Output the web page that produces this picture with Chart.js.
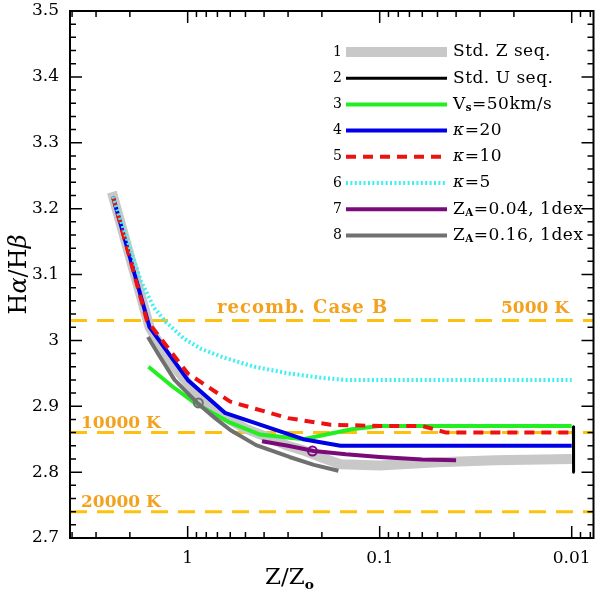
<!DOCTYPE html>
<html>
<head>
<meta charset="utf-8">
<script src="https://cdn.jsdelivr.net/npm/chart.js@4.4.1/dist/chart.umd.min.js"></script>
<style>
  html, body { margin: 0; padding: 0; background: #fff; }
</style>
</head>
<body>
<canvas id="myChart" width="600" height="603"></canvas>
<script>
// values: x = Z/Zo, y = Halpha/Hbeta
const zStdZ = [2.48, 1.58, 1.25, 1.0, 0.8, 0.65, 0.5, 0.4, 0.3, 0.25, 0.2, 0.16, 0.1, 0.05, 0.025, 0.01];
const hStdZ = [3.225, 3.02, 2.97, 2.935, 2.905, 2.885, 2.866, 2.855, 2.84, 2.833, 2.822, 2.812, 2.81, 2.815, 2.818, 2.82];

const zStdU = [0.0098, 0.0098, 0.00975, 0.0098, 0.00975, 0.0098, 0.00975, 0.0098];
const hStdU = [2.869, 2.858, 2.85, 2.84, 2.83, 2.82, 2.81, 2.80];

const zVs50 = [1.6, 1.2, 0.92, 0.6, 0.42, 0.25, 0.14, 0.1, 0.05, 0.01];
const hVs50 = [2.96, 2.93, 2.905, 2.875, 2.857, 2.85, 2.865, 2.87, 2.87, 2.87];

const zK20 = [2.45, 1.58, 1.0, 0.64, 0.25, 0.16, 0.1, 0.05, 0.025, 0.01];
const hK20 = [3.218, 3.02, 2.94, 2.89, 2.85, 2.84, 2.84, 2.84, 2.84, 2.84];

const zK10 = [2.45, 1.63, 1.0, 0.6, 0.3, 0.18, 0.1, 0.06, 0.045, 0.01];
const hK10 = [3.218, 3.03, 2.95, 2.907, 2.882, 2.872, 2.87, 2.87, 2.86, 2.86];

const zK5 = [2.45, 1.75, 1.5, 1.3, 1.05, 0.85, 0.65, 0.45, 0.3, 0.2, 0.15, 0.1, 0.05, 0.02, 0.01];
const hK5 = [3.218, 3.09, 3.05, 3.028, 3.003, 2.987, 2.974, 2.96, 2.95, 2.943, 2.94, 2.94, 2.94, 2.94, 2.94];

const zZA004 = [0.41, 0.3, 0.22, 0.15, 0.1, 0.06, 0.04];
const hZA004 = [2.847, 2.84, 2.832, 2.827, 2.823, 2.819, 2.818];

const zZA016 = [1.61, 1.4, 1.17, 0.89, 0.72, 0.6, 0.44, 0.295, 0.22, 0.164];
const hZA016 = [3.005, 2.976, 2.94, 2.905, 2.882, 2.864, 2.841, 2.823, 2.811, 2.802];

// open circles on the two Z_A tracks
const markZ = [0.224, 0.88];
const markH = [2.832, 2.905];

// Case B recombination values (5000 K, 10000 K, 20000 K)
const caseB = [3.03, 2.86, 2.74];

const xRange = [0.0077, 4.1];
const yRange = [2.7, 3.5];
const xTicks = [1, 0.1, 0.01];
const xTickText = ['1', '0.1', '0.01'];
const yTicks = [2.7, 2.8, 2.9, 3.0, 3.1, 3.2, 3.3, 3.4, 3.5];
const yTickText = ['2.7', '2.8', '2.9', '3', '3.1', '3.2', '3.3', '3.4', '3.5'];

const pts = (xs, ys) => xs.map((x, i) => ({ x: x, y: ys[i] }));
const hline = (v) => [{ x: xRange[1], y: v }, { x: xRange[0], y: v }];

const FONT = '"DejaVu Serif"';
const ORANGE = '#F3A21F';
const GOLD = '#FDC20F';

const datasets = [
  { label: 'Std. U seq.', data: pts(zStdU, hStdU), borderColor: '#000', borderWidth: 3 },
  { label: 'mark1', data: pts(markZ.slice(0, 1), markH.slice(0, 1)), showLine: false,
    pointRadius: 4.5, borderColor: '#7a0a7a', borderWidth: 2, backgroundColor: 'rgba(0,0,0,0)' },
  { label: 'mark2', data: pts(markZ.slice(1), markH.slice(1)), showLine: false,
    pointRadius: 4.5, borderColor: '#707070', borderWidth: 2, backgroundColor: 'rgba(0,0,0,0)' },
  { label: 'Z_A=0.04', data: pts(zZA004, hZA004), borderColor: '#7a0a7a', borderWidth: 4 },
  { label: 'Z_A=0.16', data: pts(zZA016, hZA016), borderColor: '#707070', borderWidth: 4 },
  { label: 'k=5', data: pts(zK5, hK5), borderColor: '#3ef0f0', borderWidth: 4, borderDash: [2, 2.4] },
  { label: 'k=10', data: pts(zK10, hK10), borderColor: '#ee1111', borderWidth: 4, borderDash: [10, 7] },
  { label: 'k=20', data: pts(zK20, hK20), borderColor: '#0000e6', borderWidth: 4 },
  { label: 'Vs=50', data: pts(zVs50, hVs50), borderColor: '#22ee22', borderWidth: 4 },
  { label: 'Std. Z seq.', data: pts(zStdZ, hStdZ), borderColor: '#c8c8c8', borderWidth: 10 },
  { label: 'caseB1', data: hline(caseB[0]), borderColor: GOLD, borderWidth: 3, borderDash: [17, 10] },
  { label: 'caseB2', data: hline(caseB[1]), borderColor: GOLD, borderWidth: 3, borderDash: [17, 10] },
  { label: 'caseB3', data: hline(caseB[2]), borderColor: GOLD, borderWidth: 3, borderDash: [17, 10] }
];

// legend rows: number, dataset index, label pieces [text, style]
const legendRows = [
  ['1', 9, [['Std. Z seq.', '']]],
  ['2', 0, [['Std. U seq.', '']]],
  ['3', 8, [['V', ''], ['s', 'sub'], ['=50km/s', '']]],
  ['4', 7, [['\u03BA', 'i'], ['=20', '']]],
  ['5', 6, [['\u03BA', 'i'], ['=10', '']]],
  ['6', 5, [['\u03BA', 'i'], ['=5', '']]],
  ['7', 3, [['Z', ''], ['A', 'sub'], ['=0.04, 1dex', '']]],
  ['8', 4, [['Z', ''], ['A', 'sub'], ['=0.16, 1dex', '']]]
];

function fontFor(s, size) {
  const f = s === 'sub' ? size * 0.6 : size;
  return (s === 'i' ? 'italic ' : '') + (s === 'sub' ? 'bold ' : '') + f + 'px ' + FONT;
}
function partsWidth(ctx, parts, size) {
  let w = 0;
  for (const [t, s] of parts) {
    ctx.font = fontFor(s, size);
    w += ctx.measureText(t).width;
  }
  return w;
}
function drawParts(ctx, parts, x, y, size) {
  for (const [t, s] of parts) {
    ctx.font = fontFor(s, size);
    ctx.fillText(t, x, s === 'sub' ? y + size * 0.22 : y);
    x += ctx.measureText(t).width;
  }
}

const frame = {
  id: 'frame',
  afterDraw(chart) {
    const ctx = chart.ctx;
    const a = chart.chartArea;
    const xs = chart.scales.x, ys = chart.scales.y;
    ctx.save();
    ctx.strokeStyle = '#000';
    ctx.fillStyle = '#000';
    ctx.lineWidth = 2;
    ctx.strokeRect(a.left, a.top, a.right - a.left, a.bottom - a.top);

    // inward ticks, y
    ctx.lineWidth = 1.5;
    for (let k = 0; k <= 40; k++) {
      const v = yRange[0] + k * 0.02;
      const p = ys.getPixelForValue(v);
      const len = k % 5 === 0 ? 12 : 6;
      ctx.beginPath();
      ctx.moveTo(a.left, p); ctx.lineTo(a.left + len, p);
      ctx.moveTo(a.right, p); ctx.lineTo(a.right - len, p);
      ctx.stroke();
    }
    // inward ticks, x (log)
    for (let d = -3; d <= 0; d++) {
      for (let m = 1; m <= 9; m++) {
        const v = m * Math.pow(10, d);
        if (v < xRange[0] || v > xRange[1]) continue;
        const p = xs.getPixelForValue(v);
        const len = m === 1 ? 12 : 6;
        ctx.beginPath();
        ctx.moveTo(p, a.bottom); ctx.lineTo(p, a.bottom - len);
        ctx.moveTo(p, a.top); ctx.lineTo(p, a.top + len);
        ctx.stroke();
      }
    }

    // tick labels
    ctx.font = '17px ' + FONT;
    ctx.textBaseline = 'middle';
    ctx.textAlign = 'right';
    yTicks.forEach((v, i) => ctx.fillText(yTickText[i], a.left - 11, ys.getPixelForValue(v)));
    ctx.textAlign = 'center';
    ctx.textBaseline = 'top';
    xTicks.forEach((v, i) => ctx.fillText(xTickText[i], xs.getPixelForValue(v), a.bottom + 12));

    // axis titles
    ctx.textAlign = 'left';
    ctx.textBaseline = 'alphabetic';
    const xt = [['Z/Z', ''], ['o', 'sub']];
    drawParts(ctx, xt, 265, 584, 23);
    const yt = [['H', ''], ['\u03B1', 'i'], ['/H', ''], ['\u03B2', 'i']];
    ctx.save();
    ctx.translate(26, (a.top + a.bottom) / 2);
    ctx.rotate(-Math.PI / 2);
    drawParts(ctx, yt, -partsWidth(ctx, yt, 24) / 2, 0, 24);
    ctx.restore();

    // Case B labels
    ctx.fillStyle = ORANGE;
    ctx.font = 'bold 18px ' + FONT;
    ctx.letterSpacing = '1px';
    ctx.textAlign = 'left';
    ctx.fillText('recomb. Case B', 217, ys.getPixelForValue(caseB[0]) - 8);
    ctx.letterSpacing = '0px';
    ctx.font = 'bold 17px ' + FONT;
    ctx.textAlign = 'right';
    ctx.fillText('5000 K', 569, ys.getPixelForValue(caseB[0]) - 8);
    ctx.textAlign = 'left';
    ctx.fillText('10000 K', 81, ys.getPixelForValue(caseB[1]) - 5);
    ctx.fillText('20000 K', 81, ys.getPixelForValue(caseB[2]) - 5);

    // legend
    const rowY = 52, rowH = 26.2;
    legendRows.forEach(([num, di, parts], i) => {
      const ds = chart.data.datasets[di];
      const y = rowY + i * rowH;
      ctx.letterSpacing = '0px';
      ctx.fillStyle = '#000';
      ctx.font = '14px ' + FONT;
      ctx.textAlign = 'right';
      ctx.textBaseline = 'middle';
      ctx.fillText(num, 342, y);
      ctx.strokeStyle = ds.borderColor;
      ctx.lineWidth = ds.borderWidth;
      ctx.setLineDash(ds.borderDash || []);
      ctx.lineCap = 'butt';
      ctx.beginPath();
      ctx.moveTo(346, y); ctx.lineTo(447, y);
      ctx.stroke();
      ctx.setLineDash([]);
      ctx.textAlign = 'left';
      ctx.textBaseline = 'middle';
      ctx.letterSpacing = '0.5px';
      drawParts(ctx, parts, 453, y, 17);
    });
    ctx.restore();
  }
};

const ctx = document.getElementById('myChart').getContext('2d');
const myChart = new Chart(ctx, {
  type: 'line',
  data: { datasets: datasets },
  options: {
    responsive: false,
    animation: false,
    layout: { padding: { left: 70, right: 5, top: 11, bottom: 65 } },
    elements: {
      point: { radius: 0 },
      line: { tension: 0, borderCapStyle: 'butt', borderJoinStyle: 'round', fill: false }
    },
    scales: {
      x: { type: 'logarithmic', reverse: true, min: xRange[0], max: xRange[1], display: false },
      y: { type: 'linear', min: yRange[0], max: yRange[1], display: false }
    },
    plugins: {
      legend: { display: false },
      tooltip: { enabled: false },
      title: { display: false }
    }
  },
  plugins: [frame]
});
</script>
</body>
</html>
